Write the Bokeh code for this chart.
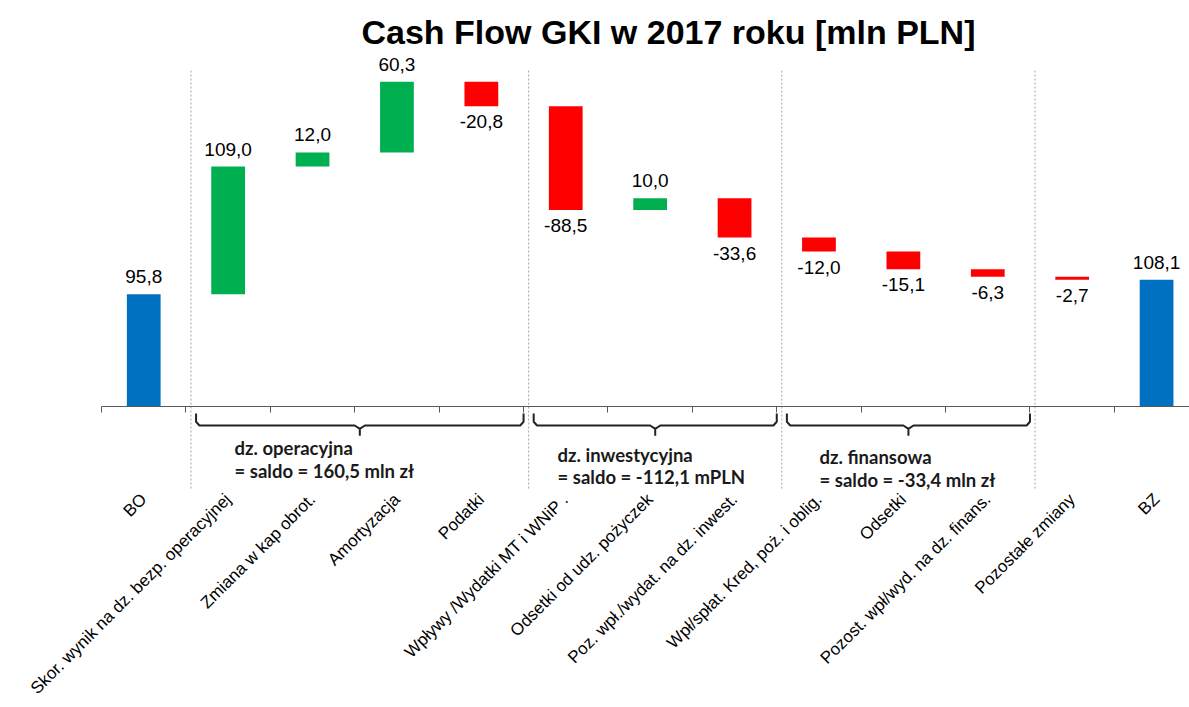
import math
from bokeh.plotting import figure
from bokeh.models import Range1d, LinearAxis, FixedTicker, ColumnDataSource
from bokeh.core.properties import value
from bokeh.embed import file_html
from bokeh.resources import INLINE

# ---------------- data ----------------
title_text = "Cash Flow GKI w 2017 roku [mln PLN]"
categories = [
    "BO",
    "Skor. wynik na dz. bezp. operacyjnej",
    "Zmiana w kap obrot.",
    "Amortyzacja",
    "Podatki",
    "Wpływy /Wydatki MT i WNiP .",
    "Odsetki od udz. pożyczek",
    "Poz. wpł./wydat. na dz. inwest.",
    "Wpł/spłat. Kred, poż. i oblig.",
    "Odsetki",
    "Pozost. wpł/wyd. na dz. finans.",
    "Pozostałe zmiany",
    "BZ",
]
values = [95.8, 109.0, 12.0, 60.3, -20.8, -88.5, 10.0, -33.6, -12.0, -15.1, -6.3, -2.7, 108.1]
kinds = ["total"] + ["delta"] * 11 + ["total"]

group_names = ["dz. operacyjna", "dz. inwestycyjna", "dz. finansowa"]
group_saldo = ["= saldo =  160,5 mln zł", "= saldo = -112,1 mPLN", "= saldo = -33,4 mln zł"]
group_first = [1, 5, 8]
group_last = [4, 7, 10]

# ---------------- styling / layout ----------------
C_TOTAL, C_UP, C_DOWN = "#0070C0", "#00B050", "#FF0000"
FONT = "Liberation Sans"
N = len(categories)

p = figure(width=1189, height=707, output_backend="svg", toolbar_location=None,
           x_range=Range1d(-1.697, 12.39), y_range=Range1d(-256.8, 303.8),
           x_axis_location=None, y_axis_location=None,
           min_border_left=0, min_border_right=0, min_border_top=50, min_border_bottom=0)
p.outline_line_color = None
p.xgrid.visible = False
p.ygrid.visible = False
p.background_fill_color = "white"
p.border_fill_color = "white"

p.title.text = title_text
p.title.align = "left"
p.title.offset = 361
p.title.standoff = 0
p.title.text_font = FONT
p.title.text_font_size = "34px"
p.title.text_font_style = "bold"
p.title.text_color = "black"

# ---------------- waterfall geometry ----------------
bottoms, tops, colors, labels = [], [], [], []
run = 0.0
for v, k in zip(values, kinds):
    if k == "total":
        b, t = 0.0, v
        run = v
        c = C_TOTAL
    else:
        b, t = run, run + v
        run += v
        c = C_UP if v >= 0 else C_DOWN
    bottoms.append(min(b, t))
    tops.append(max(b, t))
    colors.append(c)
    labels.append(f"{v:.1f}".replace(".", ","))

src = ColumnDataSource(dict(x=list(range(N)), bottom=bottoms, top=tops, color=colors))
p.vbar(x="x", width=0.4, bottom="bottom", top="top", fill_color="color", line_color=None, source=src)

# value labels
pos_idx = [i for i in range(N) if values[i] >= 0]
neg_idx = [i for i in range(N) if values[i] < 0]
p.text(x=pos_idx, y=[tops[i] for i in pos_idx], text=[labels[i] for i in pos_idx],
       text_align="center", text_baseline="bottom", y_offset=-11,
       text_font=value(FONT), text_font_size="19px", text_color="black")
p.text(x=neg_idx, y=[bottoms[i] for i in neg_idx], text=[labels[i] for i in neg_idx],
       text_align="center", text_baseline="top", y_offset=9,
       text_font=value(FONT), text_font_size="19px", text_color="black")

# ---------------- separators ----------------
seps = [f - 0.5 + 0.06 for f in group_first] + [group_last[-1] + 0.5 + 0.06]
p.segment(x0=seps, y0=[-70] * len(seps), x1=seps, y1=[288] * len(seps),
          line_color="#a6a6a6", line_width=1, line_dash="2 2")

# ---------------- braces ----------------
bxs, bys = [], []
for f, l in zip(group_first, group_last):
    xl = f - 0.5 + 0.12
    xr = l + 0.5
    xm = (xl + xr) / 2
    bxs.append([xl, xl, xl + 0.04, xm - 0.06, xm, xm, xm, xm + 0.06, xr - 0.04, xr, xr])
    bys.append([-6, -13, -16.2, -16.2, -19, -25, -19, -16.2, -16.2, -13, -6])
p.multi_line(xs=bxs, ys=bys, line_color="#222222", line_width=2)

# group annotations
gx = [1.076, 4.903, 8.007]
gy1 = [-35.8, -41.0, -43.0]
gy2 = [y - 19.5 for y in gy1]
p.text(x=gx, y=gy1, text=group_names, text_align="left", text_baseline="alphabetic",
       text_font=value("Lato"), text_font_size="18.5px", text_font_style="bold", text_color="#1a1a1a")
p.text(x=gx, y=gy2, text=group_saldo, text_align="left", text_baseline="alphabetic",
       text_font=value("Lato"), text_font_size="18.5px", text_font_style="bold", text_color="#1a1a1a")

# ---------------- axes ----------------
bticks = [i - 0.5 for i in range(N + 1)]
zero_axis = LinearAxis(fixed_location=0, ticker=FixedTicker(ticks=bticks), bounds=(-0.5, 13.0),
                       major_label_overrides={t: "" for t in bticks})
zero_axis.axis_line_color = "#595959"
zero_axis.axis_line_width = 1
zero_axis.major_tick_line_color = "#595959"
zero_axis.major_tick_out = 6
zero_axis.major_tick_in = 0
zero_axis.minor_tick_line_color = None
p.add_layout(zero_axis, "below")

cat_axis = LinearAxis(fixed_location=-70, ticker=FixedTicker(ticks=list(range(N))),
                      major_label_overrides={i: c for i, c in enumerate(categories)})
cat_axis.axis_line_color = None
cat_axis.major_tick_line_color = None
cat_axis.minor_tick_line_color = None
cat_axis.major_label_orientation = math.pi / 4
cat_axis.major_label_standoff = 2
cat_axis.major_label_text_font = FONT
cat_axis.major_label_text_font_size = "17px"
cat_axis.major_label_text_color = "black"
p.add_layout(cat_axis, "below")

open("out.html", "w").write(file_html(p, INLINE))
